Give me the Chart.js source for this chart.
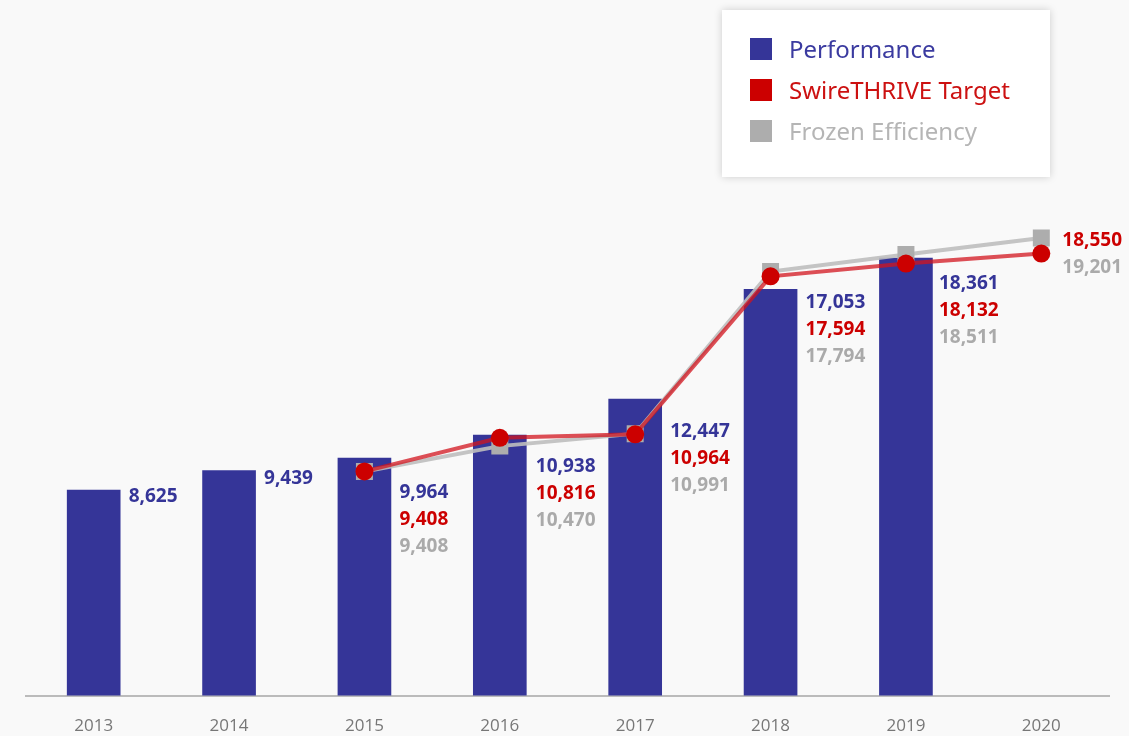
<!DOCTYPE html>
<html>
<head>
<meta charset="utf-8">
<script src="https://cdn.jsdelivr.net/npm/chart.js@4"></script>
<style>
    html, body { margin: 0; padding: 0; background: #f9f9f9; }
    #wrap { position: relative; width: 1129px; height: 736px; }
    #legend {
        position: absolute; left: 722px; top: 10px; width: 328px; height: 167px;
        background: #fff; box-shadow: 0 0 8px rgba(0,0,0,0.18);
        font-family: "Noto Sans", sans-serif; font-size: 24px;
    }
    .item { position: absolute; left: 28px; height: 30px; line-height: 30px; }
    .item span.box { position: absolute; left: 0; top: 4px; width: 22px; height: 22px; }
    .item span.txt { position: absolute; left: 39px; white-space: nowrap; }
</style>
</head>
<body>
<div id="wrap">
    <canvas id="chart" width="1129" height="736"></canvas>
    <div id="legend"></div>
</div>
<script>
var years = ['2013', '2014', '2015', '2016', '2017', '2018', '2019', '2020'];
var performance = [8625, 9439, 9964, 10938, 12447, 17053, 18361, null];
var target = [null, null, 9408, 10816, 10964, 17594, 18132, 18550];
var frozen = [null, null, 9408, 10470, 10991, 17794, 18511, 19201];

var names = ['Performance', 'SwireTHRIVE Target', 'Frozen Efficiency'];
var blue = '#353598';
var red = '#cc0000';
var grey = '#adadad';

// where the value labels sit, relative to the bar top (or the target point when there is no bar)
var labelDy = [7, 8, 34, 32, 33, 13, 26, -13];
var labelDx = [35, 35, 35, 36, 35, 35, 33, 21];

var legendBox = document.getElementById('legend');
[[names[0], blue, '#3b3ba0'], [names[1], red, '#cc1111'], [names[2], grey, '#b5b5b5']].forEach(function (it, i) {
    var d = document.createElement('div');
    d.className = 'item';
    d.style.top = (24 + i * 41) + 'px';
    d.innerHTML = '<span class="box" style="background:' + it[1] + '"></span><span class="txt" style="color:' + it[2] + '">' + it[0] + '</span>';
    legendBox.appendChild(d);
});

var valueLabels = {
    id: 'valueLabels',
    afterDatasetsDraw: function (chart) {
        var ctx = chart.ctx;
        var xs = chart.scales.x, ys = chart.scales.y;
        ctx.save();
        ctx.font = 'bold 19px "Open Sans", sans-serif';
        ctx.textAlign = 'left';
        ctx.textBaseline = 'middle';
        for (var i = 0; i < years.length; i++) {
            var rows = [];
            if (performance[i] != null) rows.push([performance[i], blue]);
            if (target[i] != null) rows.push([target[i], red]);
            if (frozen[i] != null) rows.push([frozen[i], '#aaaaaa']);
            var anchor = performance[i] != null ? performance[i] : target[i];
            var y = ys.getPixelForValue(anchor) + labelDy[i];
            var x = xs.getPixelForValue(i) + labelDx[i];
            rows.forEach(function (r, k) {
                ctx.fillStyle = r[1];
                ctx.fillText(r[0].toLocaleString('en-US'), x, y + k * 27);
            });
        }
        ctx.restore();
    }
};

var config = {
    type: 'bar',
    data: {
        labels: years,
        datasets: [{
            type: 'line',
            label: names[1],
            data: target,
            borderColor: 'rgba(210,20,30,0.75)',
            borderWidth: 4,
            pointBackgroundColor: red,
            pointBorderWidth: 0,
            pointRadius: 9,
            pointStyle: 'circle',
            order: 0
        }, {
            type: 'line',
            label: names[2],
            data: frozen,
            borderColor: 'rgba(190,190,190,0.9)',
            borderWidth: 4,
            pointBackgroundColor: grey,
            pointBorderWidth: 0,
            pointRadius: 12,
            pointStyle: 'rect',
            order: 1
        }, {
            label: names[0],
            data: performance,
            backgroundColor: blue,
            barThickness: 53,
            order: 2
        }]
    },
    options: {
        responsive: false,
        animation: false,
        layout: { padding: { top: 26, left: 26, right: 20, bottom: -20 } },
        plugins: {
            legend: { display: false },
            tooltip: { enabled: false }
        },
        scales: {
            x: {
                grid: { display: false, drawTicks: false },
                border: { display: true, color: '#bbbbbb', width: 2 },
                ticks: { color: '#777777', padding: 20, font: { size: 17, family: '"Open Sans", sans-serif' } }
            },
            y: {
                display: false,
                min: 0,
                max: 28100
            }
        }
    },
    plugins: [valueLabels]
};

window.chart = new Chart(document.getElementById('chart').getContext('2d'), config);
</script>
</body>
</html>
